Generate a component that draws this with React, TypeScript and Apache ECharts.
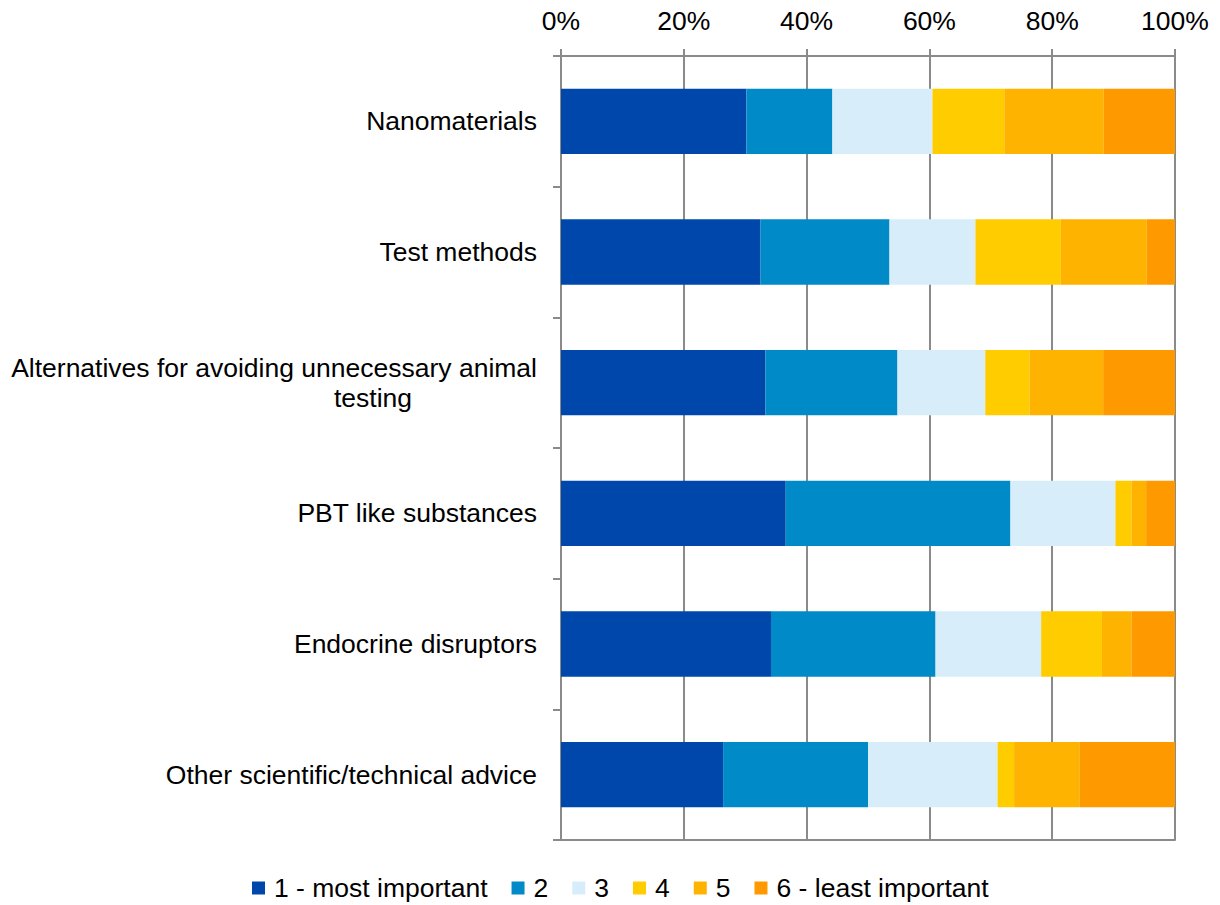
import React, { useEffect, useRef } from "react";
import * as echarts from "echarts";

const categories = [
  "Nanomaterials",
  "Test methods",
  "Alternatives for avoiding unnecessary animal testing",
  "PBT like substances",
  "Endocrine disruptors",
  "Other scientific/technical advice",
];

const seriesNames = ["1 - most important", "2", "3", "4", "5", "6 - least important"];

const rank1 = [30.2, 32.5, 33.3, 36.6, 34.2, 26.4];
const rank2 = [14.0, 21.0, 21.5, 36.6, 26.8, 23.6];
const rank3 = [16.3, 14.0, 14.3, 17.1, 17.2, 21.1];
const rank4 = [11.7, 13.9, 7.2, 2.6, 9.9, 2.7];
const rank5 = [16.2, 14.0, 12.0, 2.4, 4.8, 10.7];
const rank6 = [11.6, 4.6, 11.7, 4.7, 7.1, 15.5];

const xTicks = [0, 20, 40, 60, 80, 100];

const colors = ["#0047AB", "#008AC8", "#D7EEFA", "#FFCC00", "#FDB300", "#FF9900"];

const FONT = "'Liberation Sans', Arial, sans-serif";
const GRAY = "#8a8a8a";
const FS = 26.5;

export default function App() {
  const ref = useRef<HTMLDivElement>(null);

  useEffect(() => {
    document.body.style.margin = "0";
    document.body.style.overflow = "hidden";
    if (!ref.current) return;
    const chart = echarts.init(ref.current, undefined, { renderer: "svg" });
    const values = [rank1, rank2, rank3, rank4, rank5, rank6];

    chart.setOption({
      animation: false,
      textStyle: { fontFamily: FONT },
      grid: { left: 561, right: 45, top: 56, bottom: 65, containLabel: false },
      legend: {
        top: 874,
        left: 252,
        padding: 0,
        itemWidth: 13,
        itemHeight: 13,
        itemGap: 24,
        icon: "rect",
        data: seriesNames,
        textStyle: { fontSize: FS, lineHeight: 28, color: "#000", fontFamily: FONT, padding: [0, 0, 0, 4] },
      },
      xAxis: [
        {
          type: "value",
          position: "top",
          min: xTicks[0],
          max: xTicks[xTicks.length - 1],
          interval: 20,
          axisLine: { show: true, lineStyle: { color: GRAY, width: 2 } },
          axisTick: { show: true, length: 7, lineStyle: { color: GRAY, width: 2 } },
          axisLabel: {
            formatter: (v: number) => v + "%",
            fontSize: FS,
            color: "#000",
            fontFamily: FONT,
            margin: 22,
          },
          splitLine: { show: true, lineStyle: { color: GRAY, width: 2 } },
        },
        {
          type: "value",
          position: "bottom",
          min: 0,
          max: 100,
          axisLine: { show: true, lineStyle: { color: GRAY, width: 2 } },
          axisTick: { show: false },
          axisLabel: { show: false },
          splitLine: { show: false },
        },
      ],
      yAxis: {
        type: "category",
        inverse: true,
        data: categories,
        axisLine: { show: true, lineStyle: { color: GRAY, width: 2 } },
        axisTick: { show: true, length: 8, lineStyle: { color: GRAY, width: 2 } },
        axisLabel: {
          fontSize: FS,
          color: "#000",
          fontFamily: FONT,
          margin: 24,
          lineHeight: 30,
          formatter: (v: string) => {
            if (v.startsWith("Alternatives")) {
              return "Alternatives for avoiding unnecessary animal\n{t|testing}";
            }
            return v;
          },
          rich: {
            t: { fontSize: FS, color: "#000", fontFamily: FONT, padding: [0, 125, 0, 0], lineHeight: 30 },
          },
        },
      },
      series: seriesNames.map((name, i) => ({
        name,
        type: "bar",
        stack: "total",
        barWidth: "50%",
        xAxisIndex: 0,
        itemStyle: { color: colors[i] },
        data: values[i],
      })),
    });

    return () => chart.dispose();
  }, []);

  return <div ref={ref} style={{ width: 1220, height: 905 }} />;
}
